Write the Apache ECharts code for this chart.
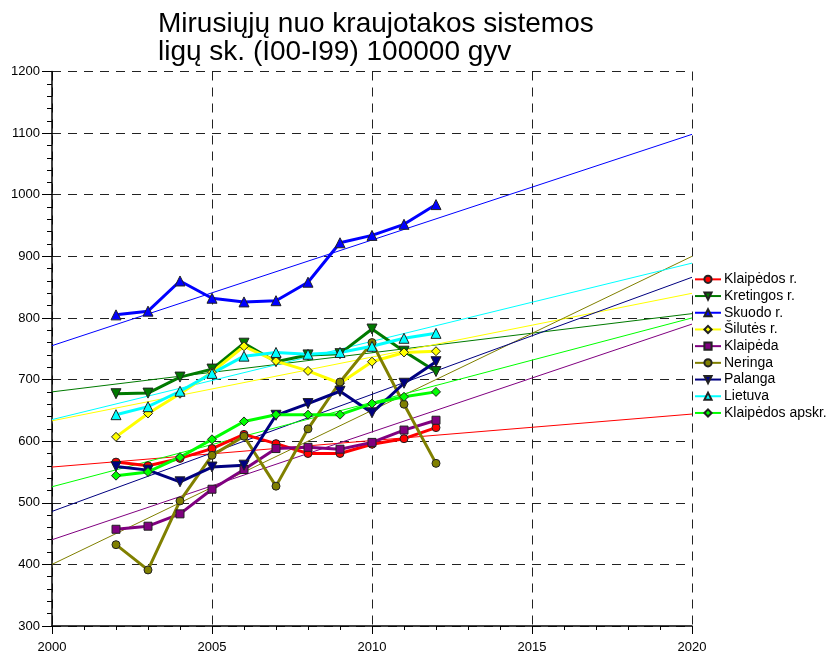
<!DOCTYPE html>
<html>
<head>
<meta charset="utf-8">
<script src="https://cdn.jsdelivr.net/npm/echarts@6/dist/echarts.min.js"></script>
<style>
  html, body { margin: 0; padding: 0; background: #fff; }
  #main { width: 827px; height: 658px; }
</style>
</head>
<body>
<div id="main"></div>
<script>
  // values
  var years = [2002, 2003, 2004, 2005, 2006, 2007, 2008, 2009, 2010, 2011, 2012];

  var klaipedosR = [566, 560, 572, 588, 611, 596, 580, 580, 595, 604, 622];
  var kretingosR = [677, 678, 704, 717, 759, 729, 740, 742, 782, 746, 713];
  var skuodoR    = [805, 811, 860, 832, 826, 828, 858, 922, 934, 952, 984];
  var siluteR    = [607, 645, 677, 712, 754, 730, 714, 694, 729, 744, 746];
  var klaipeda   = [457, 462, 482, 522, 554, 588, 590, 587, 598, 618, 634];
  var neringa    = [432, 391, 503, 577, 608, 527, 620, 696, 760, 660, 564];
  var palanga    = [559, 553, 534, 558, 561, 642, 661, 681, 646, 694, 729];
  var lietuva    = [643, 656, 681, 710, 738, 744, 741, 744, 754, 767, 775];
  var apskr      = [544, 550, 574, 603, 632, 643, 643, 643, 661, 672, 680];

  // trend lines, value at 2000 and at 2020
  var trendYears = [2000, 2020];
  var trendKlaipedosR = [558, 644];
  var trendKretingosR = [680, 807];
  var trendSkuodoR    = [755, 1098];
  var trendSiluteR    = [633, 840];
  var trendKlaipeda   = [440, 790];
  var trendNeringa    = [400, 900];
  var trendPalanga    = [486, 866];
  var trendLietuva    = [635, 889];
  var trendApskr      = [526, 800];

  var names = ['Klaipėdos r.', 'Kretingos r.', 'Skuodo r.', 'Šilutės r.', 'Klaipėda',
               'Neringa', 'Palanga', 'Lietuva', 'Klaipėdos apskr.'];

  var font = '"Liberation Sans", Arial, sans-serif';

  function pairs(xs, ys) {
    return xs.map(function (x, i) { return [x, ys[i]]; });
  }

  var defs = [
    { data: klaipedosR, trend: trendKlaipedosR, color: '#ff0000', symbol: 'circle', size: 8, rot: 0 },
    { data: kretingosR, trend: trendKretingosR, color: '#007a00', symbol: 'triangle', size: 10, rot: 180 },
    { data: skuodoR,    trend: trendSkuodoR,    color: '#0000ff', symbol: 'triangle', size: 10, rot: 0 },
    { data: siluteR,    trend: trendSiluteR,    color: '#ffff00', symbol: 'diamond', size: 9, rot: 0 },
    { data: klaipeda,   trend: trendKlaipeda,   color: '#800080', symbol: 'rect', size: 8, rot: 0 },
    { data: neringa,    trend: trendNeringa,    color: '#808000', symbol: 'circle', size: 8, rot: 0 },
    { data: palanga,    trend: trendPalanga,    color: '#000080', symbol: 'triangle', size: 10, rot: 180 },
    { data: lietuva,    trend: trendLietuva,    color: '#00ffff', symbol: 'triangle', size: 10, rot: 0 },
    { data: apskr,      trend: trendApskr,      color: '#00ff00', symbol: 'diamond', size: 9, rot: 0 }
  ];

  var series = [];
  defs.forEach(function (d, i) {
    series.push({
      name: names[i] + ' trend',
      type: 'line',
      data: pairs(trendYears, d.trend),
      showSymbol: false,
      symbol: 'none',
      lineStyle: { color: d.color, width: 1 },
      silent: true,
      z: 1
    });
  });
  defs.forEach(function (d, i) {
    series.push({
      name: names[i],
      type: 'line',
      data: pairs(years, d.data),
      symbol: d.symbol,
      symbolSize: d.size,
      symbolRotate: d.rot,
      color: d.color,
      lineStyle: { color: d.color, width: 3 },
      itemStyle: { color: d.color, borderColor: '#222', borderWidth: 1 },
      z: 3
    });
  });

  var chart = echarts.init(document.getElementById('main'));
  chart.setOption({
    animation: false,
    backgroundColor: '#fff',
    title: {
      text: 'Mirusiųjų nuo kraujotakos sistemos\nligų sk. (I00-I99) 100000 gyv',
      left: 153,
      top: 5,
      textStyle: { fontFamily: font, fontSize: 28, fontWeight: 'normal', color: '#000', lineHeight: 28.5 }
    },
    legend: {
      data: names,
      orient: 'vertical',
      left: 689,
      top: 266,
      itemWidth: 26,
      itemHeight: 9,
      itemGap: 0,
      textStyle: { fontFamily: font, fontSize: 14, color: '#000', lineHeight: 16.7, padding: [0, 0, 0, -2] }
    },
    grid: { left: 52, right: 135, top: 71.5, bottom: 32 },
    xAxis: {
      type: 'value',
      min: 2000,
      max: 2020,
      interval: 5,
      axisLine: { lineStyle: { color: '#000', width: 1.5 } },
      axisTick: { length: 8, lineStyle: { color: '#000' } },
      minorTick: { show: true, splitNumber: 5, length: 4, lineStyle: { color: '#000' } },
      axisLabel: { color: '#000', fontFamily: font, fontSize: 13, margin: 15, formatter: function (v) { return String(v); } },
      splitLine: { show: true, lineStyle: { color: '#222', type: [9, 7], width: 1 } }
    },
    yAxis: {
      type: 'value',
      min: 300,
      max: 1200,
      interval: 100,
      axisLine: { show: true, lineStyle: { color: '#000', width: 1.5 } },
      axisTick: { show: true, length: 10, lineStyle: { color: '#000' } },
      minorTick: { show: true, splitNumber: 5, length: 5, lineStyle: { color: '#000' } },
      axisLabel: { color: '#000', fontFamily: font, fontSize: 13, margin: 12, formatter: function (v) { return String(v); } },
      splitLine: { show: true, lineStyle: { color: '#222', type: [9, 7], width: 1 } }
    },
    series: series
  });
</script>
</body>
</html>
